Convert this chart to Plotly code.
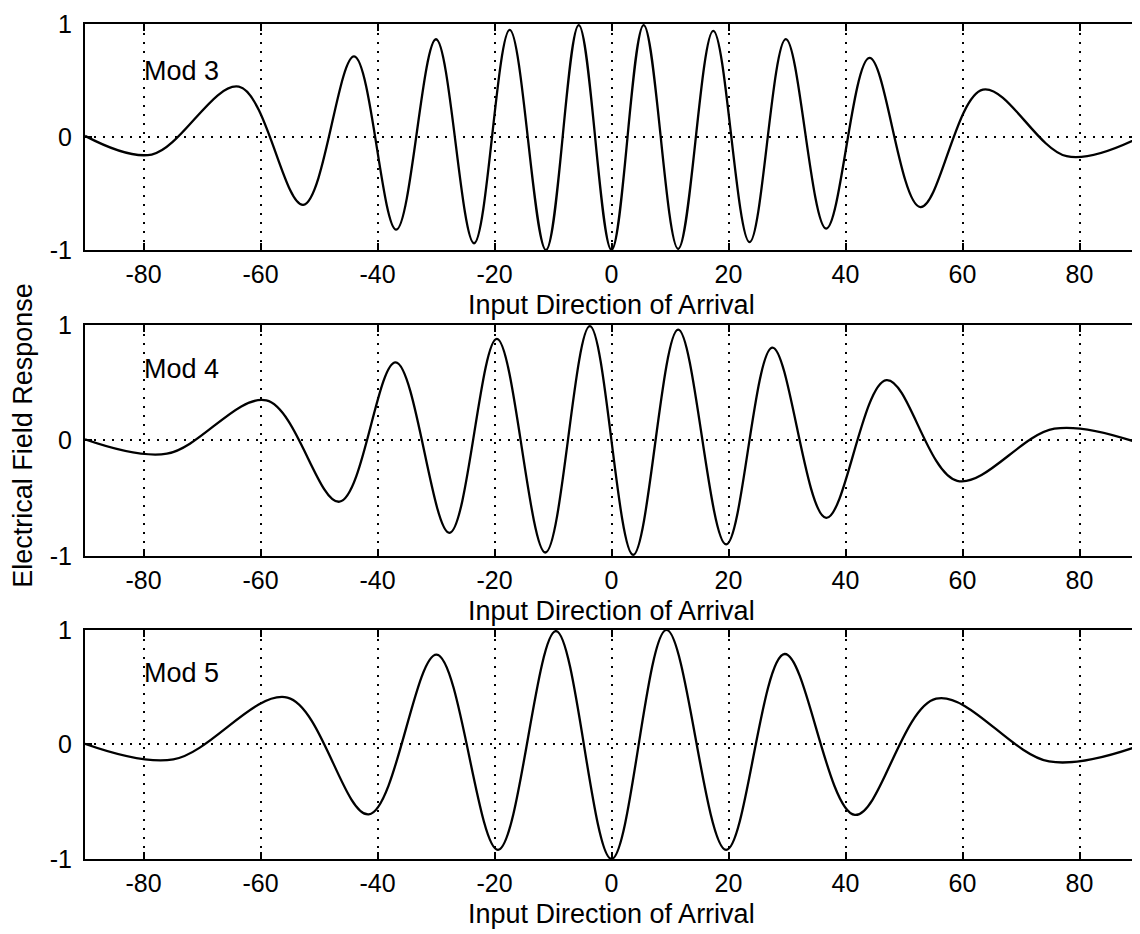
import plotly.graph_objects as go

# ---------------- data (end points and each peak / trough) ----------------
mod3_x = [-90, -78.6, -63.7, -52.7, -44.0, -36.8, -30.0, -23.5, -17.4, -11.2, -5.6, 0,
          5.5, 11.4, 17.4, 23.6, 29.8, 36.7, 44.1, 52.8, 63.5, 77.8, 90]
mod3_y = [0.01, -0.155, 0.445, -0.60, 0.713, -0.82, 0.865, -0.94, 0.948, -1.0, 0.99, -1.0,
          0.99, -0.99, 0.94, -0.93, 0.866, -0.81, 0.70, -0.62, 0.42, -0.17, -0.01]

mod4_x = [-90, -76.0, -59.0, -46.5, -36.9, -27.7, -19.6, -11.3, -3.7, 3.7, 11.4, 19.6,
          27.5, 36.7, 47.0, 59.1, 75.7, 90]
mod4_y = [0.01, -0.114, 0.347, -0.53, 0.676, -0.80, 0.88, -0.97, 0.99, -0.99, 0.96, -0.90,
          0.805, -0.67, 0.523, -0.349, 0.102, -0.02]

mod5_x = [-90, -74.9, -55.4, -41.5, -29.9, -19.4, -9.5, 0, 9.4, 19.6, 29.6, 41.6,
          55.5, 74.8, 90]
mod5_y = [0.006, -0.13, 0.41, -0.61, 0.785, -0.92, 0.99, -1.0, 1.0, -0.92, 0.79, -0.615,
          0.40, -0.148, -0.015]

panel_labels = ["Mod 3", "Mod 4", "Mod 5"]
label_y = [0.58, 0.62, 0.62]
x_ticks = [-80, -60, -40, -20, 0, 20, 40, 60, 80]
x_tick_text = ["-80", "-60", "-40", "-20", "0", "20", "40", "60", "80"]
y_ticks = [-1, 0, 1]
y_tick_text = ["-1", "0", "1"]
x_title = "Input Direction of Arrival"
y_title = "Electrical Field Response"

series = [(mod3_x, mod3_y), (mod4_x, mod4_y), (mod5_x, mod5_y)]

# ---------------- figure ----------------
FONT = "Liberation Sans, Arial, Helvetica, sans-serif"
TICK_FS = 25
TITLE_FS = 27
fig = go.Figure()

domains = [[0.7293, 1.0], [0.3629, 0.6395], [0.0, 0.2743]]

for i, (xs, ys) in enumerate(series):
    n = "" if i == 0 else str(i + 1)
    fig.add_trace(go.Scatter(
        x=xs, y=ys, mode="lines",
        line=dict(color="black", width=2.3, shape="spline", smoothing=1.0),
        xaxis="x" + n, yaxis="y" + n, showlegend=False, hoverinfo="skip"))
    fig.add_annotation(
        x=-80, y=label_y[i], xref="x" + n, yref="y" + n, text=panel_labels[i],
        showarrow=False, xanchor="left", yanchor="middle", xshift=-2,
        font=dict(family=FONT, size=TITLE_FS, color="black"))
    fig.add_annotation(
        x=0.5, y=0, xref="paper", yref="y" + n + " domain", text=x_title,
        showarrow=False, xanchor="center", yanchor="middle", yshift=-55,
        font=dict(family=FONT, size=TITLE_FS, color="black"))
    fig.update_layout(**{
        "xaxis" + n: dict(
            domain=[0, 1], anchor="y" + n, range=[-90, 90], automargin=False,
            tickvals=x_ticks, ticktext=x_tick_text, ticklabeloverflow="allow",
            ticks="inside", ticklen=7, tickwidth=2,
            tickcolor="black", showline=True, linecolor="black", linewidth=2,
            mirror="ticks", showgrid=True, gridcolor="black", gridwidth=2,
            griddash="2px,7px", zeroline=False, ticklabelstandoff=1,
            tickfont=dict(family=FONT, size=TICK_FS, color="black")),
        "yaxis" + n: dict(
            domain=domains[i], anchor="x" + n, range=[-1, 1], automargin=False,
            tickvals=y_ticks, ticktext=y_tick_text, ticklabeloverflow="allow",
            ticks="inside", ticklen=7, tickwidth=2,
            tickcolor="black", showline=True, linecolor="black", linewidth=2,
            mirror="ticks", showgrid=True, gridcolor="black", gridwidth=2,
            griddash="2px,7px", zeroline=False, ticklabelstandoff=6,
            tickfont=dict(family=FONT, size=TICK_FS, color="black")),
    })

fig.add_annotation(
    x=-0.059, y=0.5078, xref="paper", yref="paper", text=y_title,
    textangle=-90, showarrow=False, xanchor="center", yanchor="middle",
    font=dict(family=FONT, size=TITLE_FS, color="black"))

# the page body has an 8px margin, so the margins are reduced by 8px on the left/top
fig.update_layout(
    width=1140, height=934,
    margin=dict(l=77, r=10, t=16, b=83, autoexpand=False),
    paper_bgcolor="white", plot_bgcolor="white",
)

fig.write_html("out.html")
